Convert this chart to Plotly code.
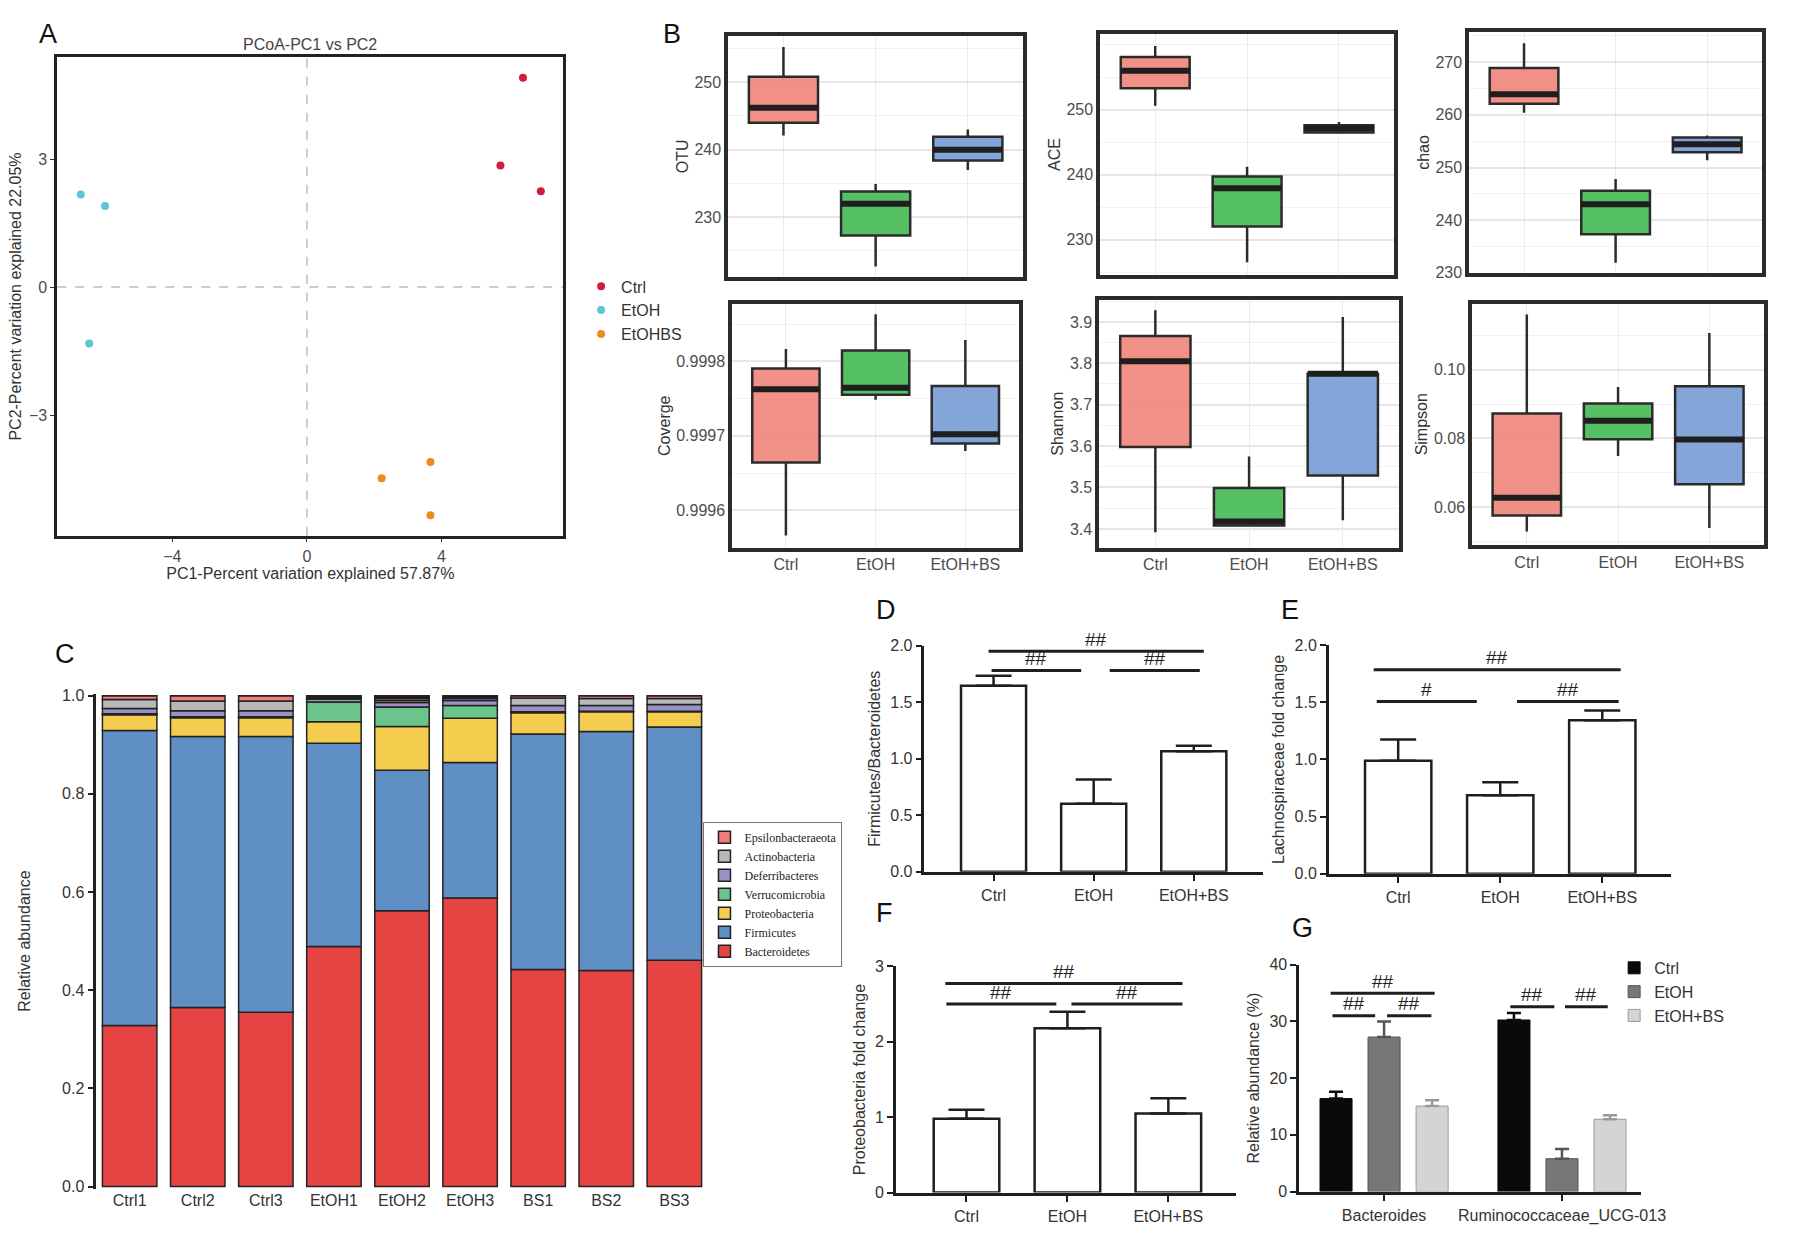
import plotly.graph_objects as go

W, H = 1795, 1243
FONT = "Liberation Sans"

# ---------------- DATA ----------------
# A: PCoA scores
pcoa_names = ["Ctrl", "EtOH", "EtOHBS"]
pc1_ctrl = [6.42, 5.75, 6.95]
pc2_ctrl = [4.91, 2.85, 2.25]
pc1_etoh = [-6.72, -6.00, -6.47]
pc2_etoh = [2.17, 1.90, -1.32]
pc1_bs = [2.22, 3.67, 3.67]
pc2_bs = [-4.48, -4.10, -5.35]

# B: alpha diversity box statistics (Ctrl, EtOH, EtOH+BS)
box_groups = ["Ctrl", "EtOH", "EtOH+BS"]
otu_low = [242.1, 222.7, 237.0]
otu_q1 = [244.0, 227.3, 238.4]
otu_med = [246.2, 232.0, 240.0]
otu_q3 = [250.8, 233.8, 241.9]
otu_high = [255.2, 234.9, 243.0]

ace_low = [250.6, 226.5, 246.3]
ace_q1 = [253.3, 232.0, 246.5]
ace_med = [256.0, 237.9, 247.1]
ace_q3 = [258.1, 239.7, 247.6]
ace_high = [259.8, 241.2, 248.1]

chao_low = [260.4, 231.9, 251.4]
chao_q1 = [262.1, 237.3, 252.9]
chao_med = [263.9, 243.0, 254.4]
chao_q3 = [268.9, 245.6, 255.7]
chao_high = [273.6, 247.8, 256.1]

cov_low = [0.9995662, 0.9997483, 0.9996795]
cov_q1 = [0.9996640, 0.9997550, 0.9996896]
cov_med = [0.9997624, 0.9997646, 0.9997020]
cov_q3 = [0.9997902, 0.9998146, 0.9997669]
cov_high = [0.9998163, 0.9998630, 0.9998286]

shan_low = [3.392, 3.408, 3.421]
shan_q1 = [3.598, 3.408, 3.529]
shan_med = [3.805, 3.418, 3.775]
shan_q3 = [3.866, 3.499, 3.775]
shan_high = [3.928, 3.575, 3.912]

simp_low = [0.0529, 0.0749, 0.0539]
simp_q1 = [0.0576, 0.0798, 0.0667]
simp_med = [0.0627, 0.0852, 0.0797]
simp_q3 = [0.0873, 0.0902, 0.0952]
simp_high = [0.1161, 0.0950, 0.1107]

# C: phylum relative abundance
samples = ["Ctrl1", "Ctrl2", "Ctrl3", "EtOH1", "EtOH2", "EtOH3", "BS1", "BS2", "BS3"]
phyla = ["Bacteroidetes", "Firmicutes", "Proteobacteria", "Verrucomicrobia",
         "Deferribacteres", "Actinobacteria", "Epsilonbacteraeota", "Others"]
bacteroidetes = [0.328, 0.365, 0.355, 0.489, 0.562, 0.588, 0.442, 0.440, 0.461]
firmicutes = [0.601, 0.552, 0.562, 0.414, 0.286, 0.276, 0.480, 0.487, 0.475]
proteobacteria = [0.032, 0.038, 0.038, 0.044, 0.089, 0.090, 0.043, 0.040, 0.031]
verrucomicrobia = [0.002, 0.002, 0.002, 0.040, 0.040, 0.026, 0.002, 0.001, 0.001]
deferribacteres = [0.011, 0.012, 0.012, 0.006, 0.009, 0.010, 0.013, 0.012, 0.014]
actinobacteria = [0.018, 0.020, 0.020, 0.002, 0.004, 0.004, 0.015, 0.014, 0.012]
epsilonbacteraeota = [0.008, 0.011, 0.011, 0.001, 0.004, 0.001, 0.005, 0.006, 0.006]
others = [0.0, 0.0, 0.0, 0.004, 0.006, 0.005, 0.0, 0.0, 0.0]

# D, E, F: bar + SEM
treat_groups = ["Ctrl", "EtOH", "EtOH+BS"]
fb_ratio = [1.646, 0.601, 1.066]
fb_err = [0.087, 0.215, 0.049]
lachno_fc = [0.988, 0.686, 1.342]
lachno_err = [0.186, 0.114, 0.086]
proteo_fc = [0.98, 2.18, 1.05]
proteo_err = [0.12, 0.22, 0.20]

# G: genus relative abundance (%)
genera = ["Bacteroides", "Ruminococcaceae_UCG-013"]
g_ctrl = [16.4, 30.26]
g_ctrl_err = [1.2, 1.24]
g_etoh = [27.25, 5.8]
g_etoh_err = [2.75, 1.7]
g_bs = [15.08, 12.75]
g_bs_err = [1.02, 0.7]

# ---------------- helpers ----------------
def dx(a, b):
    return [a / W, b / W]

def dy(top, bottom):
    return [1 - bottom / H, 1 - top / H]

fig = go.Figure()
layout = dict(width=W, height=H, margin=dict(l=0, r=0, t=0, b=0),
              paper_bgcolor="white", plot_bgcolor="white",
              font=dict(family=FONT, color="#333333"),
              barmode="group", bargap=0.19, bargroupgap=0.333,
              showlegend=True)
shapes = []
annotations = []
TXT = 16

# ---------------- A: PCoA ----------------
pcoa_colors = ["#D11B3F", "#5BC6D4", "#F08A1E"]
for name, xs, ys, col in zip(pcoa_names, [pc1_ctrl, pc1_etoh, pc1_bs],
                             [pc2_ctrl, pc2_etoh, pc2_bs], pcoa_colors):
    fig.add_trace(go.Scatter(x=xs, y=ys, mode="markers", name=name,
                             marker=dict(color=col, size=8),
                             xaxis="x", yaxis="y", legend="legend"))
layout["xaxis"] = dict(domain=dx(58, 571), anchor="y", range=[-7.42, 7.62],
                       tickvals=[-4, 0, 4], showgrid=False, zeroline=False,
                       showline=True, mirror=True, linecolor="#222", linewidth=2.5,
                       ticks="outside", ticklen=4, tickcolor="#333",
                       tickfont=dict(size=TXT, color="#4D4D4D"),
                       title=dict(text="PC1-Percent variation explained 57.87%",
                                  font=dict(size=TXT, color="#333"), standoff=2))
layout["yaxis"] = dict(domain=dy(50, 535), anchor="x", range=[-5.83, 5.39],
                       tickvals=[-3, 0, 3], showgrid=False, zeroline=False,
                       showline=True, mirror=True, linecolor="#222", linewidth=2.5,
                       ticks="outside", ticklen=4, tickcolor="#333",
                       tickfont=dict(size=TXT, color="#4D4D4D"),
                       title=dict(text="PC2-Percent variation explained 22.05%",
                                  font=dict(size=TXT, color="#333"), standoff=4))
shapes.append(dict(type="line", xref="x", yref="y domain", x0=0, x1=0, y0=0, y1=1,
                   line=dict(color="#BDBDBD", width=1.5, dash="dash"), layer="below"))
shapes.append(dict(type="line", xref="x domain", yref="y", x0=0, x1=1, y0=0, y1=0,
                   line=dict(color="#BDBDBD", width=1.5, dash="dash"), layer="below"))
annotations.append(dict(text="PCoA-PC1 vs PC2", xref="paper", yref="paper",
                        x=314 / W, y=1 - 37 / H, xanchor="center", yanchor="middle",
                        showarrow=False, font=dict(size=TXT, color="#444")))
layout["legend"] = dict(x=589 / W, y=1 - 265 / H, xanchor="left", yanchor="top",
                        font=dict(size=TXT, color="#333"), bgcolor="rgba(0,0,0,0)",
                        itemwidth=30, tracegroupgap=0)

# ---------------- B: box plots ----------------
box_fill = ["rgba(240,138,128,0.95)", "rgba(76,190,92,0.95)", "rgba(124,160,214,0.95)"]
B_panels = [
    ("OTU", [otu_low, otu_q1, otu_med, otu_q3, otu_high], 2),
    ("ACE", [ace_low, ace_q1, ace_med, ace_q3, ace_high], 3),
    ("chao", [chao_low, chao_q1, chao_med, chao_q3, chao_high], 4),
    ("Coverge", [cov_low, cov_q1, cov_med, cov_q3, cov_high], 5),
    ("Shannon", [shan_low, shan_q1, shan_med, shan_q3, shan_high], 6),
    ("Simpson", [simp_low, simp_q1, simp_med, simp_q3, simp_high], 7),
]
B_axes = {
    2: dict(xd=(738, 1037), yd=(28, 273), rng=[221.1, 256.9], tv=[230, 240, 250], fmt="d", minor=5, m0=225, bottom=False),
    3: dict(xd=(1115, 1413), yd=(26, 271), rng=[224.5, 261.7], tv=[230, 240, 250], fmt="d", minor=5, m0=225, bottom=False),
    4: dict(xd=(1489, 1786), yd=(24, 269), rng=[229.9, 275.8], tv=[230, 240, 250, 260, 270], fmt="d", minor=5, m0=225, bottom=False),
    5: dict(xd=(742, 1033), yd=(300, 547), rng=[0.99955, 0.999877], tv=[0.9996, 0.9997, 0.9998], fmt=".4f", minor=0.00005, m0=0.99955, bottom=True),
    6: dict(xd=(1114, 1418), yd=(296, 547), rng=[3.355, 3.953], tv=[3.4, 3.5, 3.6, 3.7, 3.8, 3.9], fmt=".1f", minor=0.05, m0=3.35, bottom=True),
    7: dict(xd=(1492, 1788), yd=(300, 544), rng=[0.0491, 0.1192], tv=[0.06, 0.08, 0.10], fmt=".2f", minor=0.01, m0=0.05, bottom=True),
}
BW = 0.75
for title, (lo, q1, md, q3, hi), k in B_panels:
    xa, ya = f"x{k}", f"y{k}"
    for i in range(3):
        fig.add_trace(go.Box(x=[i], lowerfence=[lo[i]], q1=[q1[i]], median=[md[i]],
                             q3=[q3[i]], upperfence=[hi[i]], width=BW,
                             fillcolor=box_fill[i], line=dict(color="#2B2B2B", width=2.5),
                             whiskerwidth=0, boxpoints=False, showlegend=False,
                             hoverinfo="skip", xaxis=xa, yaxis=ya))
        fig.add_trace(go.Scatter(x=[i - BW / 2, i + BW / 2], y=[md[i], md[i]], mode="lines",
                                 line=dict(color="#1E1E1E", width=6), showlegend=False,
                                 hoverinfo="skip", xaxis=xa, yaxis=ya))
    a = B_axes[k]
    layout[f"xaxis{k}"] = dict(domain=dx(*a["xd"]), anchor=ya, range=[-0.6, 2.6],
                               tickvals=[0, 1, 2], ticktext=box_groups,
                               showticklabels=a["bottom"], ticks="",
                               tickfont=dict(size=TXT, color="#4D4D4D"),
                               showgrid=True, gridcolor="#EBEBEB", gridwidth=1.2,
                               zeroline=False, showline=True, mirror=True,
                               linecolor="#2B2B2B", linewidth=3.5)
    layout[f"yaxis{k}"] = dict(domain=dy(*a["yd"]), anchor=xa, range=a["rng"],
                               tickvals=a["tv"], tickformat=a["fmt"], ticks="",
                               tickfont=dict(size=TXT, color="#4D4D4D"),
                               showgrid=True, gridcolor="#E6E6E6", gridwidth=2,
                               minor=dict(dtick=a["minor"], tick0=a["m0"], showgrid=True,
                                          gridcolor="#F2F2F2", gridwidth=1.2),
                               zeroline=False, showline=True, mirror=True,
                               linecolor="#2B2B2B", linewidth=3.5,
                               title=dict(text=title, font=dict(size=TXT, color="#333"), standoff=3))

# ---------------- C: stacked phylum bars ----------------
phylum_values = [bacteroidetes, firmicutes, proteobacteria, verrucomicrobia,
                 deferribacteres, actinobacteria, epsilonbacteraeota, others]
phylum_colors = ["#E64343", "#5F8FC5", "#F4CC4E", "#6CC38C", "#9B91C6",
                 "#B8B8B8", "#F07C7C", "#1A1A1A"]
base = [0.0] * len(samples)
for name, vals, col in zip(phyla, phylum_values, phylum_colors):
    fig.add_trace(go.Bar(x=samples, y=vals, base=list(base), name=name,
                         marker=dict(color=col, line=dict(color="#222", width=1.5)),
                         width=0.8, offsetgroup="phyla", xaxis="x8", yaxis="y8",
                         legend="legend2", showlegend=(name != "Others"),
                         hoverinfo="skip"))
    base = [b + v for b, v in zip(base, vals)]
layout["xaxis8"] = dict(domain=dx(97.6, 717.3), anchor="y8", range=[-0.49, 8.49],
                        type="category", showline=False, ticks="", showgrid=False,
                        zeroline=False, tickfont=dict(size=TXT, color="#333"))
layout["yaxis8"] = dict(domain=dy(695.2, 1196.9), anchor="x8", range=[-0.004, 1.004],
                        tickvals=[0, 0.2, 0.4, 0.6, 0.8, 1.0], tickformat=".1f",
                        showline=True, linecolor="#222", linewidth=2.5,
                        ticks="outside", ticklen=6, tickwidth=2, tickcolor="#222",
                        showgrid=False, zeroline=False,
                        tickfont=dict(size=TXT, color="#333"),
                        title=dict(text="Relative abundance", font=dict(size=TXT, color="#333"), standoff=28))
layout["legend2"] = dict(x=713 / W, y=1 - 825 / H, xanchor="left", yanchor="top",
                         traceorder="reversed", bgcolor="white",
                         bordercolor="#777", borderwidth=1,
                         font=dict(family="Liberation Serif", size=12, color="#222"),
                         itemwidth=30, tracegroupgap=0)

# ---------------- D, E, F: single bar charts ----------------
DEF_panels = [
    (9, fb_ratio, fb_err, "Firmicutes/Bacteroidetes", (937, 1280), (646.5, 875.7), [-0.69, 2.69], [0, 2.0], 0.5, ".1f",
     [(-0.05, 2.10, 1.951, "##"), (-0.02, 0.875, 1.780, "##"), (1.16, 2.06, 1.780, "##")]),
    (10, lachno_fc, lachno_err, "Lachnospiraceae fold change", (1346.8, 1693.3), (646, 877.7), [-0.68, 2.67], [0, 2.0], 0.5, ".1f",
     [(-0.24, 2.18, 1.785, "##"), (-0.21, 0.77, 1.506, "#"), (1.165, 2.16, 1.506, "##")]),
    (11, proteo_fc, proteo_err, "Proteobacteria fold change", (908, 1252.7), (971.7, 1201), [-0.70, 2.67], [0, 3], 1, "d",
     [(-0.21, 2.14, 2.774, "##"), (-0.20, 0.89, 2.50, "##"), (1.04, 2.14, 2.50, "##")]),
]

def add_brackets(k, brackets):
    for x0, x1, yv, txt in brackets:
        shapes.append(dict(type="line", xref=f"x{k}", yref=f"y{k}", x0=x0, x1=x1, y0=yv, y1=yv,
                           line=dict(color="#1E1E1E", width=3)))
        annotations.append(dict(text=txt, xref=f"x{k}", yref=f"y{k}", x=(x0 + x1) / 2, y=yv,
                                yanchor="middle", yshift=12, showarrow=False,
                                font=dict(size=19, color="#1E1E1E")))

def axis_pair(k, xd, yd, xr, yr, dt, fmt, ytitle, tickvals=None, ticktext=None, cat=False):
    xa = dict(domain=dx(*xd), anchor=f"y{k}", range=xr, showline=True, linecolor="#1E1E1E",
              linewidth=2.5, ticks="outside", ticklen=7, tickwidth=2, tickcolor="#1E1E1E",
              showgrid=False, zeroline=False, tickfont=dict(size=TXT, color="#333"))
    if cat:
        xa["type"] = "category"
    else:
        xa["tickvals"] = tickvals
        xa["ticktext"] = ticktext
    ya = dict(domain=dy(*yd), anchor=f"x{k}", range=yr, dtick=dt, tick0=0, tickformat=fmt,
              showline=True, linecolor="#1E1E1E", linewidth=2.5, ticks="outside", ticklen=6,
              tickwidth=2, tickcolor="#1E1E1E", showgrid=False, zeroline=False,
              tickfont=dict(size=TXT, color="#333"),
              title=dict(text=ytitle, font=dict(size=TXT, color="#333"), standoff=6))
    layout[f"xaxis{k}"] = xa
    layout[f"yaxis{k}"] = ya

for k, vals, errs, ytitle, xd, yd, xr, yr, dt, fmt, brackets in DEF_panels:
    fig.add_trace(go.Bar(x=[0, 1, 2], y=vals, width=0.65,
                         marker=dict(color="white", line=dict(color="#1E1E1E", width=2.5)),
                         error_y=dict(type="data", array=errs, arrayminus=[0] * len(errs),
                                      symmetric=False, color="#1E1E1E", thickness=2.5, width=18),
                         showlegend=False, hoverinfo="skip", xaxis=f"x{k}", yaxis=f"y{k}"))
    axis_pair(k, xd, yd, xr, yr, dt, fmt, ytitle, tickvals=[0, 1, 2], ticktext=treat_groups)
    add_brackets(k, brackets)

# ---------------- G: grouped genus bars ----------------
g_series = [("Ctrl", g_ctrl, g_ctrl_err, "#0A0A0A", "#0A0A0A"),
            ("EtOH", g_etoh, g_etoh_err, "#777777", "#555555"),
            ("EtOH+BS", g_bs, g_bs_err, "#D4D4D4", "#9A9A9A")]
for name, vals, errs, col, ecol in g_series:
    fig.add_trace(go.Bar(x=genera, y=vals, name=name,
                         marker=dict(color=col, line=dict(color=ecol, width=1)),
                         error_y=dict(type="data", array=errs, arrayminus=[0] * len(errs),
                                      symmetric=False, color=ecol, thickness=2.5, width=7),
                         legend="legend3", hoverinfo="skip", xaxis="x12", yaxis="y12"))
axis_pair(12, (1316.8, 1663.4), (970, 1200), [-0.477, 1.445], [0, 40], 10, "d",
          "Relative abundance (%)", cat=True)
add_brackets(12, [(-0.30, 0.284, 34.96, "##"), (-0.29, -0.05, 31.0, "##"),
                  (0.017, 0.266, 31.0, "##"), (0.71, 0.957, 32.57, "##"),
                  (1.017, 1.257, 32.57, "##")])
layout["legend3"] = dict(x=1636 / W, y=1 - 956 / H, xanchor="left", yanchor="top",
                         bgcolor="rgba(0,0,0,0)", font=dict(size=TXT, color="#333"),
                         itemwidth=30, tracegroupgap=0)

# ---------------- panel letters ----------------
for letter, px, py in [("A", 49, 26), ("B", 681, 26), ("C", 66, 655), ("D", 898, 610),
                       ("E", 1307, 610), ("F", 896, 918), ("G", 1320, 933)]:
    annotations.append(dict(text=letter, xref="paper", yref="paper", x=px / W, y=1 - py / H,
                            xanchor="center", yanchor="middle", showarrow=False,
                            font=dict(size=27, color="#111")))

layout["shapes"] = shapes
layout["annotations"] = annotations
fig.update_layout(**layout)
fig.write_html("out.html", config={"displayModeBar": False},
               post_script="document.body.style.margin='0px';document.body.style.overflow='hidden';")
